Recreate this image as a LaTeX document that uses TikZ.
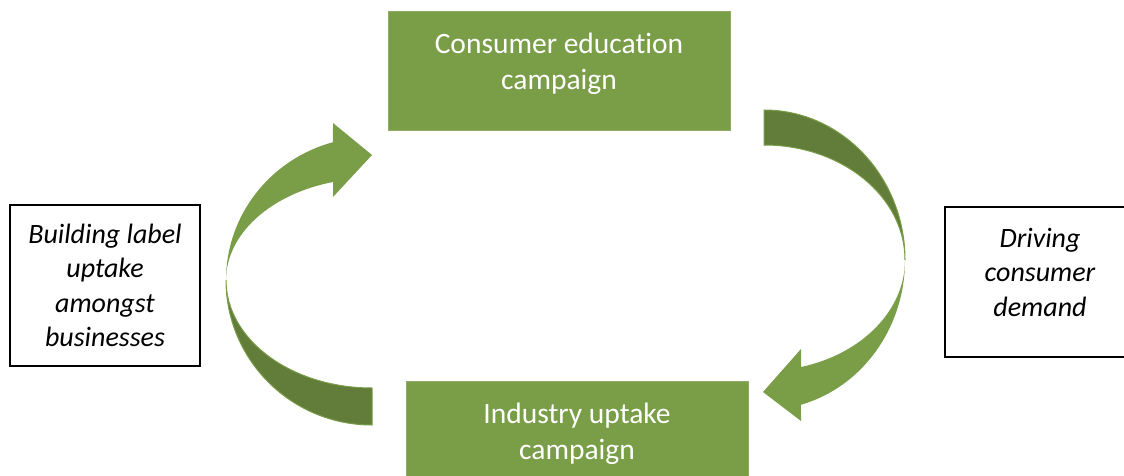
\documentclass[tikz,border=0pt]{standalone}
\usepackage{fontspec}
\setmainfont{Carlito}[Ligatures=NoCommon]
\definecolor{leaf}{HTML}{7A9D48}
\definecolor{leafdark}{HTML}{627C3A}
\newcommand{\lowpad}{\rule[-18pt]{0pt}{18pt}}
\begin{document}
\begin{tikzpicture}[x=1pt,y=1pt,
  campaignbox/.style={fill=leaf, draw=leaf!85!white, line width=0.8pt,
    minimum width=342pt, minimum height=119pt, inner sep=0pt,
    text=white, align=center, font=\fontsize{29.5}{36}\selectfont},
  notebox/.style={draw=black, line width=2pt, fill=white,
    minimum width=190pt, inner sep=0pt},
  notetext/.style={align=center, font=\itshape\fontsize{28}{34.5}\selectfont},
  ribbonfront/.style={fill=leaf},
  ribbonback/.style={fill=leafdark, draw=leaf, line width=1pt}
]
\useasboundingbox (0,0) rectangle (1124,475);
\clip (0,0) rectangle (1124,475);

% campaign boxes
\node[campaignbox] (consumer) at (559,404.5) {Consumer education\\campaign\lowpad};
\node[campaignbox] (industry) at (577,34.5) {Industry uptake\\campaign\lowpad};

% right ribbon arrow (consumer -> industry)
\fill[ribbonback] (764,365) arc[start angle=90,end angle=0,x radius=141,y radius=150]
  arc[start angle=0,end angle=90,x radius=141,y radius=115] -- cycle;
\fill[ribbonfront] (905,215) arc[start angle=0,end angle=-74.8,x radius=141,y radius=150]
  -- (801,54) -- (763,83) -- (801,126) -- (801,108)
  arc[start angle=-74.8,end angle=0,x radius=141,y radius=111] -- cycle;

% left ribbon arrow (industry -> consumer)
\fill[ribbonback] (226,195) arc[start angle=180,end angle=270,x radius=146,y radius=145]
  -- (372,87) arc[start angle=270,end angle=180,x radius=146,y radius=108] -- cycle;
\fill[ribbonfront] (226,195) arc[start angle=180,end angle=105.5,x radius=146,y radius=143]
  -- (333,352) -- (372,320) -- (333,278) -- (333,293)
  arc[start angle=105.5,end angle=180,x radius=146,y radius=102] -- cycle;

% note boxes
\node[notebox, minimum height=161pt] (building) at (105,189.5) {};
\node[notetext] (buildingtext) at (building.center) {Building label\\uptake\\amongst\\businesses};
\node[notebox, minimum height=150pt] (driving) at (1040,193) {};
\node[notetext] (drivingtext) at (1040,203) {Driving\\consumer\\demand};
\end{tikzpicture}
\end{document}
